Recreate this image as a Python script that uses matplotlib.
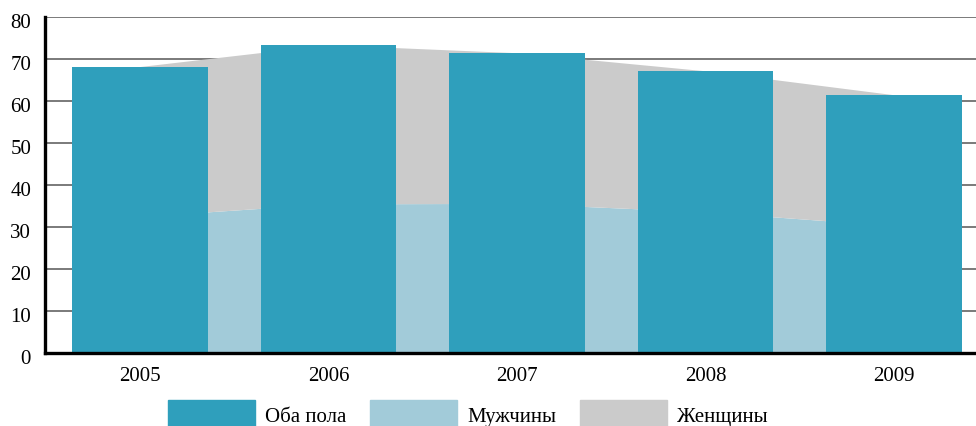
import matplotlib.pyplot as plt
from matplotlib.patches import Patch
from matplotlib.transforms import ScaledTranslation

plt.rcParams['font.family'] = ['Liberation Serif', 'DejaVu Serif']

years = ['2005', '2006', '2007', '2008', '2009']
both = [68.0, 73.2, 71.3, 67.0, 61.3]
men = [32.3, 35.3, 35.4, 33.4, 30.1]
women = [b - m for b, m in zip(both, men)]

c_both = '#2f9fbc'
c_men = '#a2cbd9'
c_women = '#cbcbcb'

fig = plt.figure(figsize=(9.76, 4.27), dpi=100)
ax = fig.add_axes([45 / 976, 1 - 353.5 / 427, 1 - 45 / 976, (353.5 - 17.7) / 427])

x = list(range(len(years)))
ax.stackplot(x, men, women, colors=[c_men, c_women], zorder=2)
ax.bar(x, both, width=0.72, color=c_both, zorder=3)

ax.set_xlim(-0.504, 4.435)
ax.set_ylim(0, 80)
ax.set_yticks(range(0, 81, 10))
ax.set_xticks(x)
ax.set_xticklabels(years)
ax.tick_params(axis='both', length=0, labelsize=15)
ax.tick_params(axis='y', pad=10)
ax.tick_params(axis='x', pad=10)
shift = ScaledTranslation(0, -3 / 100, fig.dpi_scale_trans)
for t in ax.get_yticklabels():
    t.set_transform(t.get_transform() + shift)
ax.yaxis.grid(True, color='#707070', linewidth=1.3, zorder=0)
ax.set_axisbelow(True)

for s in ['top', 'right']:
    ax.spines[s].set_visible(False)
ax.spines['left'].set_linewidth(2.4)
ax.spines['bottom'].set_linewidth(2.4)
ax.spines['left'].set_zorder(5)
ax.spines['bottom'].set_zorder(5)

handles = [Patch(color=c_both), Patch(color=c_men), Patch(color=c_women)]
fig.legend(handles, ['Оба пола', 'Мужчины', 'Женщины'], ncol=3,
           loc='upper left', bbox_to_anchor=(167.5 / 976, 1 - 401 / 427),
           frameon=False, fontsize=15, handlelength=4.2, handleheight=1.75,
           handletextpad=0.5, columnspacing=1.1, borderpad=0, borderaxespad=0)

fig.savefig('out.png', dpi=100)
